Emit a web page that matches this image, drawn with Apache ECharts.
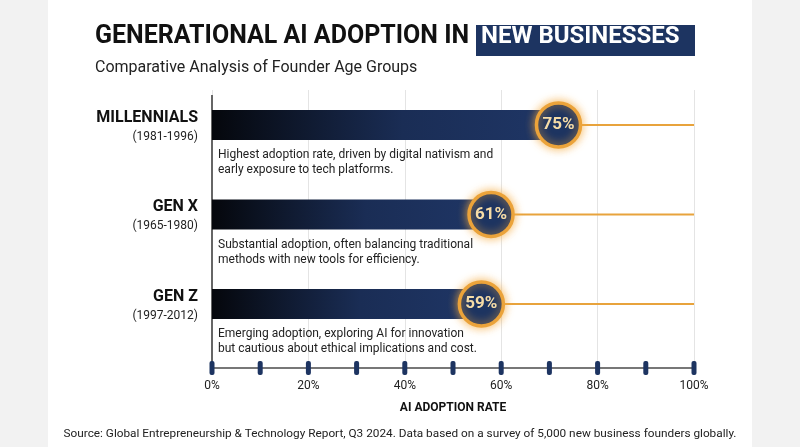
<!DOCTYPE html>
<html><head><meta charset="utf-8">
<script src="https://cdn.jsdelivr.net/npm/echarts@6/dist/echarts.min.js"></script>
<style>html,body{margin:0;padding:0;background:#f2f2f2}#c{width:800px;height:447px}</style>
</head><body><div id="c"></div>
<script>
const generations = ["GEN Z", "GEN X", "MILLENNIALS"];
const years = ["(1997-2012)", "(1965-1980)", "(1981-1996)"];
const rates = [59, 61, 75];
const notes = [
  "Emerging adoption, exploring AI for innovation\nbut cautious about ethical implications and cost.",
  "Substantial adoption, often balancing traditional\nmethods with new tools for efficiency.",
  "Highest adoption rate, driven by digital nativism and\nearly exposure to tech platforms."
];
const tickValues = [0,10,20,30,40,50,60,70,80,90,100];

const chart = echarts.init(document.getElementById('c'));
const F = 'Roboto, sans-serif';
const rows = rates.map((v,i)=>[v,i]);
chart.setOption({
  animation:false,
  backgroundColor:'transparent',
  graphic:[
    {type:'rect',shape:{x:48,y:0,width:704,height:447},style:{fill:'#fff'},z:-10},
    {type:'text',left:95,top:24,style:{text:'GENERATIONAL AI ADOPTION IN',font:'bold 25px '+F,fill:'#111'}},
    {type:'rect',shape:{x:476,y:25,width:219,height:31},style:{fill:'#1d3461'}},
    {type:'text',left:481,top:25,style:{text:'NEW BUSINESSES',font:'bold 24px '+F,fill:'#fff'}},
    {type:'text',left:95,top:60,style:{text:'Comparative Analysis of Founder Age Groups',font:'16px '+F,fill:'#222'}},
    {type:'text',left:'center',top:428,style:{text:'Source: Global Entrepreneurship & Technology Report, Q3 2024. Data based on a survey of 5,000 new business founders globally.',font:'11.8px '+F,fill:'#222'}}
  ],
  grid:{left:212,right:106,top:90,bottom:79},
  xAxis:{type:'value',min:0,max:100,interval:20,
    axisLine:{show:true,onZero:false,lineStyle:{color:'#777',width:2}},
    axisTick:{show:false},
    axisLabel:{formatter:'{value}%',color:'#222',fontSize:12,fontFamily:F,margin:12},
    splitLine:{show:true,lineStyle:{color:'#e4e4e4',width:1}},
    name:'AI ADOPTION RATE',nameLocation:'middle',nameGap:34,
    nameTextStyle:{fontWeight:'bold',fontSize:12,color:'#111',fontFamily:F}},
  yAxis:{type:'value',min:-0.715,max:2.39,show:false,splitLine:{show:false}},
  series:[
    {type:'custom',silent:true,data:rows,z:5,
     renderItem:function(params,api){
       const v=api.value(0), i=api.value(1);
       const c=api.coord([v,i]), o=api.coord([0,i]), e=api.coord([100,i]);
       const y=c[1], cx=c[0]-15;
       return {type:'group',children:[
         {type:'line',shape:{x1:cx,y1:y,x2:e[0],y2:y},style:{stroke:'#e8a33c',lineWidth:2}},
         {type:'rect',shape:{x:o[0],y:y-15,width:cx-o[0],height:30},
          style:{fill:new echarts.graphic.LinearGradient(0,0,1,0,[{offset:0,color:'#05070c'},{offset:0.55,color:'#1a2d55'},{offset:1,color:'#1f3666'}])}},
         {type:'circle',shape:{cx:cx,cy:y,r:22},
          style:{fill:'#1d3461',stroke:'#eba33a',lineWidth:3.5,shadowBlur:10,shadowColor:'rgba(245,170,60,0.8)'}},
         {type:'text',x:cx,y:y,style:{text:v+'%',align:'center',verticalAlign:'middle',font:'bold 17px '+F,fill:'#f6dca6'}},
         {type:'text',x:198,y:y-7,style:{text:generations[i],align:'right',verticalAlign:'middle',font:'bold 16px '+F,fill:'#111'}},
         {type:'text',x:198,y:y+12,style:{text:years[i],align:'right',verticalAlign:'middle',font:'12px '+F,fill:'#222'}},
         {type:'text',x:o[0]+6,y:y+23,style:{text:notes[i],align:'left',verticalAlign:'top',font:'12px '+F,fill:'#222',lineHeight:15}}
       ]};
     }},
    {type:'custom',silent:true,data:tickValues.map(t=>[t]),z:6,
     renderItem:function(params,api){
       const p=api.coord([api.value(0),-0.715]);
       return {type:'rect',shape:{x:p[0]-2.5,y:p[1]-7,width:5,height:14,r:2},style:{fill:'#1d3461'}};
     }},
    {type:'custom',silent:true,data:[[0]],z:4,
     renderItem:function(params,api){
       const a=api.coord([0,2.39]), b=api.coord([0,-0.715]);
       return {type:'line',shape:{x1:a[0],y1:a[1]+5,x2:b[0],y2:b[1]},style:{stroke:'#666',lineWidth:2}};
     }}
  ]
});
</script></body></html>
